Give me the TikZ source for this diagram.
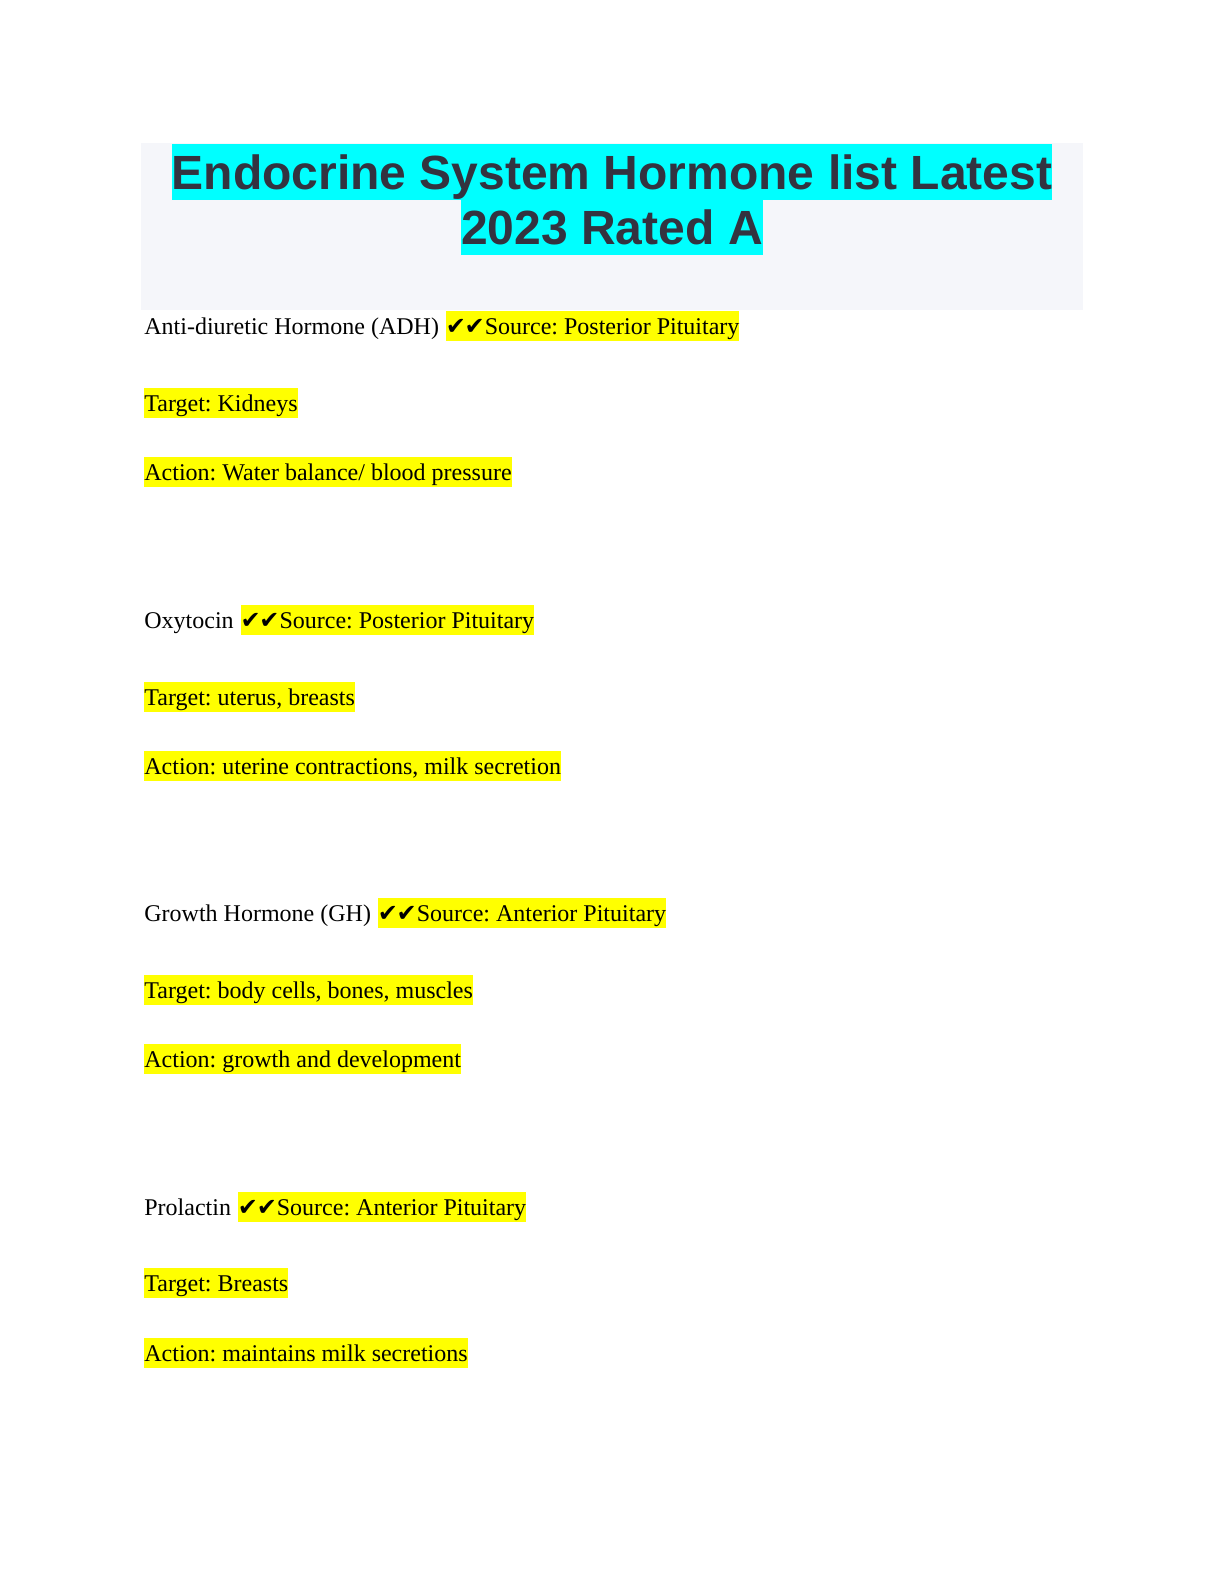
\documentclass[tikz,border=0pt]{standalone}
\usepackage{fontspec}
\setmainfont{Liberation Serif}
\newfontfamily\titlefont{Liberation Sans}
\newfontfamily\symfont{DejaVu Sans}
\frenchspacing
\newcommand\mychk{{\symfont\fontsize{12}{13}\selectfont ✔\kern-0.6pt✔}}
\definecolor{titlebg}{HTML}{F5F6FA}
\definecolor{titletext}{HTML}{333340}
\definecolor{hlcyan}{HTML}{00FFFF}
\definecolor{hlyellow}{HTML}{FFFF00}
\tikzset{
  titlehl/.style={fill=hlcyan, text=titletext, inner sep=0pt, text height=22.8pt, text depth=5.2pt,
    font=\titlefont\bfseries\fontsize{24}{27.6}\selectfont, anchor=base},
  bodytext/.style={inner sep=0pt, font=\fontsize{12}{13.8}\selectfont, anchor=base west},
  hltext/.style={bodytext, fill=hlyellow, text height=11.3pt, text depth=3.5pt},
}
\begin{document}
\begin{tikzpicture}[x=0.5pt,y=-0.5pt]
\useasboundingbox (0,0) rectangle (1224,1584);
\fill[white] (0,0) rectangle (1224,1584);
\fill[titlebg] (141,143) rectangle (1083,310);
\node[titlehl] (t1) at (612,189.5) {Endocrine System Hormone list Latest};
\node[titlehl] (t2) at (612,244.7) {2023 Rated A};

% ADH
\node[bodytext] (adh) at (144,334) {Anti-diuretic Hormone (ADH)};
\node[hltext] (adhs) at ([xshift=3pt]adh.base east) {\mychk Source: Posterior Pituitary};
\node[hltext] (adht) at (144,411) {Target: Kidneys};
\node[hltext] (adha) at (144,480) {Action: Water balance/ blood pressure};

% Oxytocin
\node[bodytext] (oxy) at (144,628) {Oxytocin};
\node[hltext] (oxys) at ([xshift=3pt]oxy.base east) {\mychk Source: Posterior Pituitary};
\node[hltext] (oxyt) at (144,705) {Target: uterus, breasts};
\node[hltext] (oxya) at (144,774) {Action: uterine contractions, milk secretion};

% GH
\node[bodytext] (gh) at (144,921) {Growth Hormone (GH)};
\node[hltext] (ghs) at ([xshift=3pt]gh.base east) {\mychk Source: Anterior Pituitary};
\node[hltext] (ght) at (144,998) {Target: body cells, bones, muscles};
\node[hltext] (gha) at (144,1067) {Action: growth and development};

% Prolactin
\node[bodytext] (prl) at (144,1215) {Prolactin};
\node[hltext] (prls) at ([xshift=3pt]prl.base east) {\mychk Source: Anterior Pituitary};
\node[hltext] (prlt) at (144,1291) {Target: Breasts};
\node[hltext] (prla) at (144,1361) {Action: maintains milk secretions};
\end{tikzpicture}
\end{document}
